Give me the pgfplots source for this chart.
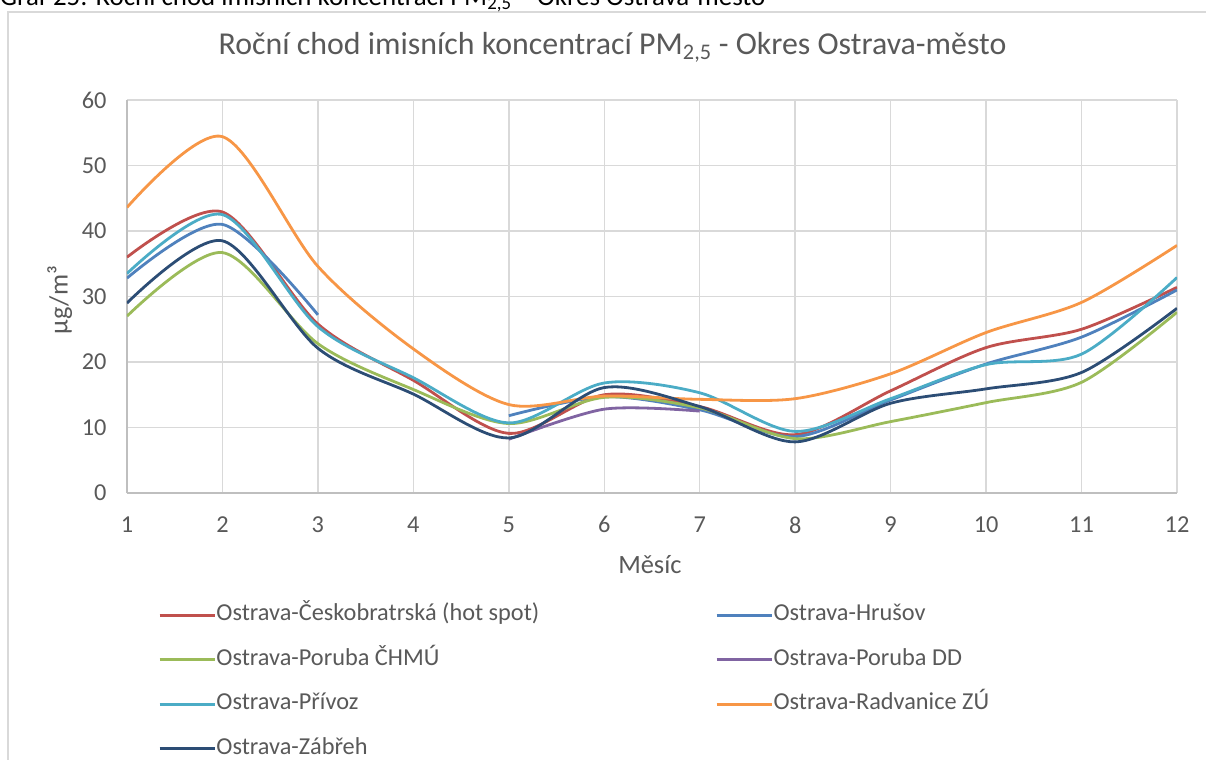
\documentclass[border=0pt]{standalone}
\usepackage{fontspec}
\setmainfont{Carlito}
\usepackage{pgfplots}
\pgfplotsset{compat=1.18}
\definecolor{cRed}{HTML}{C0504D}
\definecolor{cBlue}{HTML}{4F81BD}
\definecolor{cGreen}{HTML}{9BBB59}
\definecolor{cPurple}{HTML}{8064A2}
\definecolor{cAqua}{HTML}{4BACC6}
\definecolor{cOrange}{HTML}{F79646}
\definecolor{cNavy}{HTML}{2C4D75}
\definecolor{gridc}{HTML}{D9D9D9}
\definecolor{axisc}{HTML}{BFBFBF}
\definecolor{txt}{HTML}{595959}
\begin{document}
\begin{tikzpicture}
\begin{axis}[
  scale only axis, width=1050bp, height=393bp,
  xmin=1, xmax=12, ymin=0, ymax=60,
  xtick={1,...,12}, ytick={0,10,...,60},
  /pgf/number format/assume math mode=true,
  axis lines=left,
  axis line style={-, axisc, line width=1.5bp},
  grid=major,
  major grid style={gridc, line width=1.5bp},
  major tick length=0pt,
  tick label style={txt, font=\fontsize{24.4}{28}\selectfont},
  xticklabel style={yshift=-20bp},
  yticklabel style={xshift=-17bp},
  title={Roční chod imisních koncentrací PM\textsubscript{2,5} - Okres Ostrava-město},
  title style={at={(axis description cs:0.4624,1.1018)}, anchor=base, txt, font=\fontsize{32}{36}\selectfont},
  xlabel={Měsíc},
  xlabel style={at={(axis description cs:0.498,-0.2036)}, anchor=base, txt, font=\fontsize{26.5}{30}\selectfont},
  ylabel={µg/m³},
  ylabel style={at={(axis description cs:-0.064,0.491)}, anchor=center, txt, font=\fontsize{26.5}{30}\selectfont},
  every axis plot/.append style={line width=2.8bp, smooth, tension=0.5, mark=none},
  legend columns=2,
  legend cell align=left,
  legend image code/.code={\draw[#1] (0bp,0bp) -- (55bp,0bp);},
  legend style={draw=none, fill=none, at={(axis description cs:0.0295,-0.284)}, anchor=north west,
    inner sep=0pt, row sep=23.5bp,
    font=\fontsize{24.4}{28}\selectfont, text=txt,
    nodes={inner xsep=0.5bp, inner ysep=0pt, text height=16bp, text depth=5bp},
    /tikz/every even column/.append style={column sep=175.5bp}},
]
\addplot[cRed] coordinates {(1,36.0)(2,42.9)(3,25.8)(4,17.2)(5,9.1)(6,15.0)(7,13.2)(8,8.9)(9,15.6)(10,22.2)(11,25.0)(12,31.4)};
\addlegendentry{Ostrava-Českobratrská (hot spot)}
\addplot[cBlue] coordinates {(1,32.8)(2,41.0)(3,27.2)};
\addlegendentry{Ostrava-Hrušov}
\addplot[cBlue, forget plot] coordinates {(5,11.8)(6,14.7)(7,12.7)(8,8.6)(9,14.2)(10,19.7)(11,23.8)(12,31.0)};
\addplot[cGreen] coordinates {(1,27.0)(2,36.7)(3,22.8)(4,15.8)(5,10.6)(6,14.6)(7,13.0)(8,8.3)(9,10.9)(10,13.8)(11,16.9)(12,27.6)};
\addlegendentry{Ostrava-Poruba ČHMÚ}
\addplot[cPurple] coordinates {(5,8.2)(6,12.8)(7,12.5)};
\addlegendentry{Ostrava-Poruba DD}
\addplot[cAqua] coordinates {(1,33.5)(2,42.5)(3,25.4)(4,17.6)(5,10.7)(6,16.8)(7,15.3)(8,9.4)(9,14.4)(10,19.6)(11,21.2)(12,32.9)};
\addlegendentry{Ostrava-Přívoz}
\addplot[cOrange] coordinates {(1,43.6)(2,54.4)(3,34.6)(4,22.0)(5,13.5)(6,14.8)(7,14.3)(8,14.4)(9,18.2)(10,24.5)(11,29.1)(12,37.8)};
\addlegendentry{Ostrava-Radvanice ZÚ}
\addplot[cNavy] coordinates {(1,29.0)(2,38.5)(3,22.1)(4,15.1)(5,8.4)(6,16.1)(7,13.2)(8,7.8)(9,13.7)(10,15.9)(11,18.4)(12,28.2)};
\addlegendentry{Ostrava-Zábřeh}
\coordinate (O) at (rel axis cs:0,0);
\end{axis}
\pgfresetboundingbox
\begin{scope}[shift={(O)}, x=1bp, y=1bp]
\useasboundingbox (-127,-267) rectangle ++(1206,760);
\draw[gridc, line width=1.5bp] (-119,481) rectangle (1110,-300);
\node[anchor=base west, inner sep=0, font=\fontsize{27}{31}\selectfont] at (-127,487) {Graf 25: Roční chod imisních koncentrací PM\textsubscript{2,5} – Okres Ostrava-město};
\end{scope}
\end{tikzpicture}
\end{document}
